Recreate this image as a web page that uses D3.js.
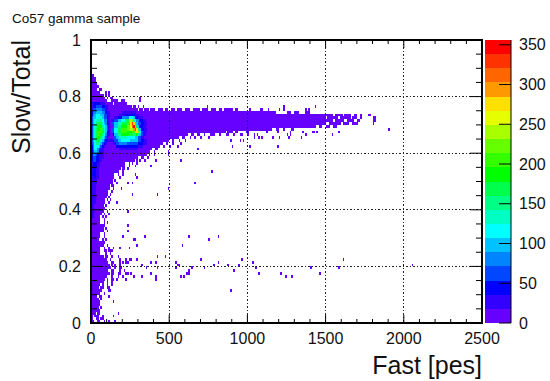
<!DOCTYPE html>
<html><head><meta charset="utf-8">
<script src="https://cdn.jsdelivr.net/npm/d3@7"></script>
<style>html,body{margin:0;padding:0;background:#fff}svg{display:block}text{font-family:"Liberation Sans",Arial,sans-serif;fill:#111}</style>
</head><body><div id="c"></div>
<script>
const titleText = "Co57 gamma sample";
const xTitle = "Fast [pes]";
const yTitle = "Slow/Total";
const xMajor = [0,500,1000,1500,2000,2500];
const xMinor = [100,200,300,400,600,700,800,900,1100,1200,1300,1400,1600,1700,1800,1900,2100,2200,2300,2400];
const yMajor = [0,0.2,0.4,0.6,0.8,1];
const yMinor = [0.05,0.1,0.15,0.25,0.3,0.35,0.45,0.5,0.55,0.65,0.7,0.75,0.85,0.9,0.95];
const zTicks = [0,50,100,150,200,250,300,350];
const palette = ["#6600ff","#3300ff","#0000ff","#0047ff","#0085ff","#00c2ff","#00ffff","#00ffc2","#00ff85","#00ff4d","#00ff00","#33ff00","#66ff00","#a8ff00","#e5ff00","#ffe000","#ff9900","#ff6600","#ff3300","#ff0000"];
const binX = 10, binY = 0.01, zMax = 356;
// each row: slow/total bin, then pairs (run end in fast bins, count); count 0 = empty
const rowRuns = [
[87,2,4],[86,3,4],[85,3,4],[84,4,4],[83,5,4],[82,4,4,5,0,7,4],
[81,6,4,9,0,10,4,11,0,12,4],[80,8,4,9,0,10,4,11,0,12,4],[79,9,4,10,0,11,4,12,0,14,4],
[78,10,4,13,0,17,4,19,0,22,4],
[77,1,25,6,45,9,25,14,4,15,0,23,4],
[76,1,25,3,45,7,60,9,45,11,25,26,4,27,0,29,4,30,0,31,4,33,0,34,4,74,0,75,4,123,0,124,4,143,0,144,4],
[75,1,25,3,60,7,80,9,60,11,25,30,4,31,0,33,4,34,0,37,4,38,0,41,4,43,0,46,4,47,0,49,4,51,0,54,4,55,0,58,4,60,0,63,4,65,0,70,4,71,0,75,4,77,0,80,4,82,0,84,4,85,0,91,4,92,0,94,4,101,0,102,4,108,0,110,4,113,0,114,4,120,0,121,4,123,0,124,4,137,0,138,4,139,0,140,4],
[74,1,45,3,80,7,97,9,80,10,45,12,25,20,4,29,25,118,4,125,0,128,4,130,0,133,4,137,0,140,4],
[73,1,45,2,80,3,97,6,115,8,97,10,60,12,25,18,4,22,25,28,45,31,25,155,4,156,0,161,4,162,0,166,4,168,0,170,4,172,0,173,4,177,0,179,4],
[72,1,60,3,97,5,115,7,133,8,97,10,60,11,45,12,25,15,4,17,25,20,45,24,80,27,115,28,97,30,45,33,25,150,4,151,0,158,4,159,0,166,4,167,0,170,4,172,0,173,4,180,0,182,4],
[71,1,60,2,97,3,115,5,133,7,150,8,115,10,80,11,45,12,25,13,4,15,25,17,60,19,97,22,115,24,168,26,240,27,222,29,133,31,80,33,45,35,25,155,4,156,0,162,4,164,0,168,4,170,0,172,4,180,0,182,4],
[70,1,60,2,97,3,115,4,150,7,168,8,133,9,97,10,80,11,45,12,25,13,4,15,60,17,97,20,133,23,168,25,204,26,275,27,329,28,275,29,168,30,97,32,60,34,45,36,25,150,4,152,0,160,4,161,0,165,4,167,0,171,4,180,0,181,4],
[69,1,60,2,97,3,133,4,150,7,186,8,150,9,115,10,97,11,60,12,25,14,4,15,60,17,97,19,150,23,186,25,222,26,257,27,311,28,347,29,293,30,168,31,97,33,45,35,25,144,4,146,0,148,4,150,0,153,4,155,0,157,4],
[68,1,60,2,97,3,133,4,168,6,186,7,204,8,168,9,133,10,97,11,60,12,25,13,4,15,60,17,115,19,168,23,204,25,222,27,240,28,293,29,329,30,275,31,150,32,97,34,45,36,25,116,4,118,0,120,4,123,0,124,4,128,0,130,4],
[67,1,60,2,97,3,133,4,168,7,204,8,186,9,133,10,97,11,45,12,25,13,4,15,60,17,115,19,168,23,204,26,186,28,204,29,240,30,275,31,222,32,115,33,60,36,25,86,4,87,0,91,4,92,0,94,4,99,0,101,4],
[66,1,60,2,97,3,133,4,168,6,204,7,186,8,150,9,115,10,80,11,45,12,25,14,4,15,45,17,97,19,150,24,186,27,168,29,150,30,186,31,133,32,97,33,60,35,25,62,4,64,0,66,4,68,0,70,4,72,0,73,4,76,0,79,4,82,0,83,4,86,0,88,4,91,0,92,4,95,0,97,4,100,0,101,4,104,0,105,4],
[65,1,60,2,97,3,133,4,168,6,186,7,168,8,133,9,97,10,60,11,25,14,4,16,60,18,97,23,133,28,115,30,97,32,60,34,25,56,4,58,0,60,4,63,0,64,4,66,0,67,4,70,0,71,4,75,0,76,4],
[64,1,60,2,97,3,115,4,150,6,168,7,133,8,97,9,60,10,45,11,25,15,25,17,60,19,97,25,115,30,97,32,60,34,45,36,25,50,4,52,0,53,4,56,0,57,4,60,0,61,4],
[63,1,60,2,80,3,115,5,150,6,133,7,97,8,60,9,45,10,25,14,4,16,25,18,60,23,80,30,60,33,45,36,25,46,4,48,0,49,4,52,0,53,4,57,0,58,4],
[62,1,45,2,80,5,115,6,97,7,60,8,45,9,25,16,4,20,45,30,45,33,25,44,4,46,0,47,4,50,0,51,4,55,0,56,4],
[61,1,45,2,80,4,115,5,80,6,60,8,25,18,4,30,25,39,4,41,0,43,4],
[60,1,45,2,60,4,97,5,80,6,45,8,25,38,4,40,0,41,4],
[59,1,45,3,80,4,60,5,45,8,25,36,4,37,0,38,4,40,0,41,4],
[58,1,45,3,60,5,45,8,25,30,4,32,0,34,4,36,0,37,4],
[57,1,45,3,60,5,45,7,25,28,4,29,0,30,4,31,0,32,4],
[56,1,25,4,45,6,25,22,4,24,0,25,4,26,0,27,4,29,0,30,4],
[55,1,25,4,45,6,25,22,4,24,0,25,4,28,0,29,4],
[54,1,25,3,45,5,25,19,4,20,0,22,4,23,0,24,4],
[53,1,25,3,45,5,25,18,4,20,0,21,4],
[52,3,45,5,25,15,4,17,0,18,4,20,0,21,4],
[51,2,25,3,45,5,25,15,4,18,0,19,4],
[50,4,25,14,4,15,0,16,4],
[49,4,25,14,4,16,0,17,4],
[48,3,25,12,4,13,0,15,4],
[47,3,25,12,4,14,0,15,4],
[46,3,25,11,4,13,0,14,4],
[45,3,25,11,4,12,0,13,4],
[44,3,25,10,4,11,0,12,4],[43,3,25,9,4,10,0,11,4,12,0,13,4],[42,3,25,9,4,11,0,12,4],[41,2,25,8,4,9,0,10,4],[40,2,25,9,4],[39,2,25,8,4,10,0,11,4],[38,2,25,7,4,8,0,9,4,11,0,12,4],[37,2,25,6,4,7,0,8,4,9,0,10,4],
[36,6,4,8,0,9,4],[35,6,4,8,0,9,4,10,0,11,4],[34,9,4],[33,8,4,9,0,10,4],[32,8,4,10,0,11,4],[31,6,4,8,0,9,4],[30,6,4,8,0,9,4],[29,5,4,7,0,8,4,9,0,10,4],[28,9,4],[27,8,4,10,0,11,4],
[26,6,4,8,0,9,4,11,0,12,4,14,0,15,4],[25,6,4,8,0,10,4,11,0,14,4],[24,6,4,9,0,10,4,12,0,13,4],[23,8,4,9,0,11,4,13,0,14,4,17,0,18,4],
[22,10,4,12,0,13,4,18,0,19,4,22,0,23,4,24,0,25,4],[21,11,4,13,0,15,4,18,0,19,4,20,0,21,4,22,0,24,4],[20,12,4,13,0,14,4,15,0,16,4,18,0,19,4],[19,13,4,15,0,16,4,18,0,20,4],
[18,11,4,13,0,15,4,18,0,19,4,21,0,22,4],[17,12,4,13,0,15,4,17,0,19,4,22,0,24,4,25,0,26,4],[16,10,4,13,0,14,4,17,0,18,4,20,0,21,4],[15,9,4,10,0,11,4,13,0,15,4,16,0,17,4],
[14,8,4,10,0,11,4,13,0,14,4],[13,6,4,7,0,8,4,10,0,11,4,13,0,14,4],[12,5,4,6,0,8,4,10,0,12,4],[11,7,4,11,0,13,4],[10,6,4,8,0,9,4],[9,4,4,5,0,7,4],[8,5,4,6,0,7,4],[7,6,4],[6,6,4],[5,5,4,6,0,7,4],[4,6,4],[3,3,4,4,0,6,4],[2,1,4,2,0,5,4,7,0,8,4],[1,1,4,3,0,5,4,6,0,8,4],[0,2,4,4,0,6,4,8,0,9,4]
];
// isolated single-count cells
const strayBin = [62,75,81,58,47,54,54,55,56,57,59,61,62,62,64,70,72,78,81,87,91,94,96,89,103,105,107,121,124,128,140,146,158,161,205,190,57,77,66,49,68,49,49,90,101,119,89,95,97,109,107,104,116,120,126,134,106,125,127,137,154,112,119,127,135,144,141,142,158,31,31,42,26,23,23,23,20,34,27,28,29,24,18,42,47,38,41,29,25,32,35,38,42,41,41,27,25,32,22,13,11,14,17,14,11,15,41,38,34,31,29,26,24,28,29,26,23,19,26,16];
const strayRow = [30,29,30,27,23,21,19,20,20,16,16,17,17,18,19,22,19,20,21,20,18,20,22,11,21,19,17,17,16,16,19,17,19,22,20,68,57,53,49,47,61,60,59,62,62,62,64,64,64,65,65,65,65,65,65,65,66,66,66,66,66,67,67,67,67,67,67,67,67,78,79,45,45,39,34,32,30,30,29,29,27,26,26,23,23,21,21,22,22,20,19,17,19,15,16,16,17,16,15,13,9,7,3,2,0,0,57,55,57,57,56,56,55,52,51,49,49,47,45,42];

const W = 550, H = 381;
const L = 91, R = 482, T = 40, B = 323;
const x = d3.scaleLinear().domain([0,2500]).range([L,R]);
const y = d3.scaleLinear().domain([0,1]).range([B,T]);
const z = d3.scaleLinear().domain([0,zMax]).range([B,T]);
const color = d3.scaleQuantize().domain([0,zMax]).range(palette);

const cells = [];
rowRuns.forEach(row => {
  let start = 0;
  for (let i = 1; i < row.length; i += 2) {
    if (row[i+1] > 0) cells.push({r: row[0], a: start, b: row[i], v: row[i+1]});
    start = row[i];
  }
});
strayBin.forEach((b,i) => cells.push({r: strayRow[i], a: b, b: b+1, v: 1}));

const svg = d3.select("#c").append("svg").attr("width",W).attr("height",H).attr("viewBox",`0 0 ${W} ${H}`);
svg.append("g").selectAll("rect").data(cells).join("rect")
  .attr("x",d=>x(d.a*binX)).attr("width",d=>x(d.b*binX)-x(d.a*binX))
  .attr("y",d=>y((d.r+1)*binY)).attr("height",d=>y(d.r*binY)-y((d.r+1)*binY))
  .attr("fill",d=>color(d.v)).attr("shape-rendering","crispEdges");

// grid
const grid = svg.append("g").attr("stroke","#222").attr("stroke-width",1).attr("stroke-dasharray","1.5 2").attr("shape-rendering","crispEdges");
grid.selectAll(".v").data(xMajor.slice(1,-1)).join("line").attr("x1",d=>x(d)).attr("x2",d=>x(d)).attr("y1",T).attr("y2",B);
grid.selectAll(".h").data(yMajor.slice(1,-1)).join("line").attr("x1",L).attr("x2",R).attr("y1",d=>y(d)).attr("y2",d=>y(d));

// ticks
function ticks(items, len, sw) {
  const g = svg.append("g").attr("stroke","#000").attr("stroke-width",sw);
  items.x.forEach(v => {
    g.append("line").attr("x1",x(v)).attr("x2",x(v)).attr("y1",B).attr("y2",B-len.x);
    g.append("line").attr("x1",x(v)).attr("x2",x(v)).attr("y1",T).attr("y2",T+len.x);
  });
  items.y.forEach(v => {
    g.append("line").attr("x1",L).attr("x2",L+len.y).attr("y1",y(v)).attr("y2",y(v));
    g.append("line").attr("x1",R).attr("x2",R-len.y).attr("y1",y(v)).attr("y2",y(v));
  });
}
ticks({x:xMajor,y:yMajor},{x:8,y:12},1);
ticks({x:xMinor,y:yMinor},{x:4,y:6},1);

// frame
svg.append("rect").attr("x",L).attr("y",T).attr("width",R-L).attr("height",B-T).attr("fill","none").attr("stroke","#000").attr("stroke-width",2);

// tick labels
svg.append("g").selectAll("text").data(xMajor).join("text")
  .attr("x",d=>x(d)).attr("y",344).attr("text-anchor","middle").attr("font-size",16).text(d=>d);
svg.append("g").selectAll("text").data(yMajor).join("text")
  .attr("x",81).attr("y",d=>y(d)+5.5).attr("text-anchor","end").attr("font-size",16).text(d=>d);

// colour bar
const cbL = 485, cbR = 511;
svg.append("g").selectAll("rect").data(palette).join("rect")
  .attr("x",cbL).attr("width",cbR-cbL)
  .attr("y",(d,i)=>z((i+1)*zMax/palette.length)).attr("height",(d,i)=>z(i*zMax/palette.length)-z((i+1)*zMax/palette.length))
  .attr("fill",d=>d).attr("shape-rendering","crispEdges");
svg.append("line").attr("x1",cbR).attr("x2",cbR).attr("y1",T).attr("y2",B).attr("stroke","#000");
svg.append("g").selectAll("line").data(zTicks).join("line")
  .attr("x1",cbR-12).attr("x2",cbR).attr("y1",d=>z(d)).attr("y2",d=>z(d)).attr("stroke","#000");
svg.append("g").selectAll("text").data(zTicks).join("text")
  .attr("x",519).attr("y",d=>z(d)+5.5).attr("font-size",16).text(d=>d);

// titles
svg.append("text").attr("x",12).attr("y",23).attr("font-size",13.5).text(titleText);
svg.append("text").attr("x",R).attr("y",374).attr("text-anchor","end").attr("font-size",25).text(xTitle);
svg.append("text").attr("transform",`translate(30,${T}) rotate(-90)`).attr("text-anchor","end").attr("font-size",25).text(yTitle);
</script></body></html>
